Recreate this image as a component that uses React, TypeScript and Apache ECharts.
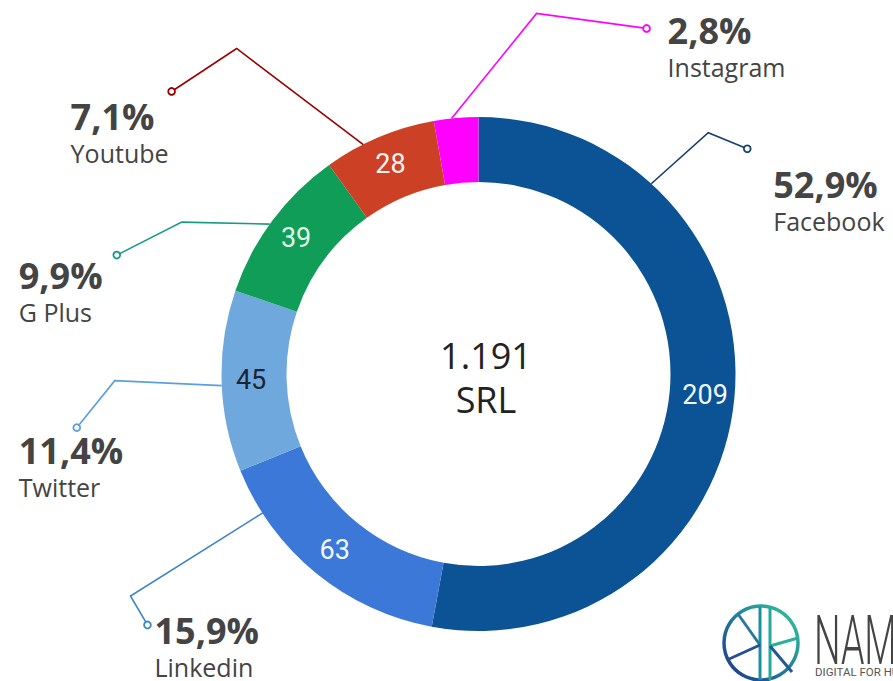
import React, { useEffect, useRef } from "react";
import * as echarts from "echarts";

// ---- data ----
const categories = ["Facebook", "Linkedin", "Twitter", "G Plus", "Youtube", "Instagram"];
const values = [209, 63, 45, 39, 28, 11];
const centerLines = ["1.191", "SRL"];
const logoWord = "NAM";
const logoTagline = "DIGITAL FOR HUMANS";

// ---- styles ----
const sliceColors = ["#0b5394", "#3c78d8", "#6fa8dc", "#0f9d58", "#cc4125", "#ff00ff"];
const innerLabelColors = ["#f2f6ff", "#f2f6ff", "#1b2536", "#e3f7e6", "#fff4f0", "#ffffff"];
const leaderColors = ["#17406e", "#3d85c6", "#5b9ee0", "#1a9988", "#990000", "#ff00ff"];
// leader layout: angle shift from slice middle (deg), anchor radius, two legs, text offset from dot
const leaderStyle = [
  { shift: -53, r: 257, leg1: [57, -51], leg2: [39, 16], text: [26, 24] },
  { shift: 18, r: 238, leg1: [-148, 93], leg2: [17, 29], text: [7, -6] },
  { shift: -1, r: 257, leg1: [-107, -5], leg2: [-38, 47], text: [-58, 11] },
  { shift: -1, r: 257, leg1: [-88, -2], leg2: [-65, 33], text: [-98, 8] },
  { shift: -3.6, r: 254, leg1: [-129, -98], leg2: [-65, 43], text: [-101, 13] },
  { shift: -1, r: 257, leg1: [85, -105], leg2: [110, 15], text: [21, -10] },
];

const CX = 478.5;
const CY = 374;
const R_IN = 192;
const R_OUT = 257;

export default function App() {
  const ref = useRef<HTMLDivElement>(null);

  useEffect(() => {
    if (!ref.current) return;
    const chart = echarts.init(ref.current, undefined, { renderer: "svg" });
    const total = values.reduce((a, b) => a + b, 0);
    const pct = values.map((v) => (Math.round((v / total) * 1000) / 10).toFixed(1).replace(".", ",") + "%");

    // geometry for leader lines, derived from the slice angles
    let acc = 0;
    const geo = values.map((v, i) => {
      const mid = ((acc + v / 2) / total) * 360;
      acc += v;
      const s = leaderStyle[i];
      const a = ((mid + s.shift) * Math.PI) / 180;
      const anchor = [CX + s.r * Math.sin(a), CY - s.r * Math.cos(a)];
      const elbow = [anchor[0] + s.leg1[0], anchor[1] + s.leg1[1]];
      const dot = [elbow[0] + s.leg2[0], elbow[1] + s.leg2[1]];
      const tx = dot[0] + s.text[0];
      const ty = dot[1] + s.text[1] - 8;
      return { anchor, elbow, dot, tx, ty };
    });

    const innerData = values.map((v, i) => ({
      value: v,
      name: categories[i],
      itemStyle: { color: sliceColors[i] },
      label: { color: innerLabelColors[i], show: i !== 5 },
    }));

    const outerData = values.map((v, i) => ({
      value: v,
      name: categories[i],
      labelLine: { lineStyle: { color: leaderColors[i], width: 1.6 } },
    }));

    const dots = geo.map((g, i) => ({
      type: "circle",
      z: 100,
      shape: { cx: g.dot[0], cy: g.dot[1], r: 3.4 },
      style: { fill: "#fff", stroke: leaderColors[i], lineWidth: 1.8 },
    }));

    const logoGrad = new echarts.graphic.LinearGradient(1, 0, 0, 1, [
      { offset: 0, color: "#36c79a" },
      { offset: 0.5, color: "#1e7f9e" },
      { offset: 1, color: "#24318a" },
    ]);

    const logoLines = [
      { p: [[760, 607], [760, 680]], c: "#1f8fa0" },
      { p: [[770, 607], [770, 680]], c: "#27a89c" },
      { p: [[738, 614], [760, 645]], c: "#2a7aa0" },
      { p: [[727, 660], [760, 645]], c: "#254f92" },
      { p: [[770, 646], [798, 638]], c: "#2bb09a" },
      { p: [[770, 646], [792, 672]], c: "#22579a" },
    ].map((l) => ({
      type: "line",
      z: 50,
      shape: { x1: l.p[0][0], y1: l.p[0][1], x2: l.p[1][0], y2: l.p[1][1] },
      style: { stroke: l.c, lineWidth: 3 },
    }));

    chart.setOption({
      animation: false,
      backgroundColor: "#ffffff",
      series: [
        {
          type: "pie",
          radius: [R_IN, R_OUT],
          center: [CX, CY],
          startAngle: 90,
          clockwise: true,
          avoidLabelOverlap: false,
          silent: true,
          label: {
            show: true,
            position: "inside",
            formatter: "{c}",
            fontFamily: "Roboto",
            fontSize: 27,
          },
          labelLine: { show: false },
          data: innerData,
        },
        {
          type: "pie",
          radius: [R_IN, R_OUT],
          center: [CX, CY],
          startAngle: 90,
          clockwise: true,
          avoidLabelOverlap: false,
          silent: true,
          itemStyle: { color: "rgba(0,0,0,0)" },
          label: {
            show: true,
            position: "outside",
            formatter: (p: any) => `{pct|${pct[p.dataIndex]}}\n{name|${p.name}}`,
            rich: {
              pct: { fontFamily: "Open Sans", fontWeight: "bold", fontSize: 36, lineHeight: 40, color: "#444444" },
              name: { fontFamily: "Open Sans", fontSize: 25, lineHeight: 33, color: "#444444" },
            },
          },
          labelLine: { show: true, length: 10, length2: 10 },
          labelLayout: (params: any) => {
            const g = geo[params.dataIndex];
            return {
              x: g.tx,
              y: g.ty,
              align: "left",
              verticalAlign: "top",
              labelLinePoints: [g.anchor, g.elbow, g.dot],
            };
          },
          data: outerData,
        },
      ],
      graphic: [
        {
          type: "text",
          z: 100,
          x: 486,
          y: 377,
          style: {
            text: centerLines.join("\n"),
            fontFamily: "Open Sans",
            fontSize: 36,
            lineHeight: 44,
            fill: "#222222",
            align: "center",
            verticalAlign: "middle",
          },
        },
        ...dots,
        {
          type: "circle",
          z: 50,
          shape: { cx: 761, cy: 643, r: 37 },
          style: { fill: "none", stroke: logoGrad, lineWidth: 3.5 },
        },
        ...logoLines,
        {
          type: "text",
          z: 50,
          x: 814,
          y: 606,
          scaleX: 0.55,
          style: {
            text: logoWord,
            fontFamily: "Roboto",
            fontWeight: 300,
            fontSize: 68,
            fill: "#444444",
          },
        },
        {
          type: "text",
          z: 50,
          x: 815,
          y: 666,
          style: {
            text: logoTagline,
            fontFamily: "Roboto",
            fontSize: 11.5,
            fill: "#555555",
          },
        },
      ],
    });
    return () => chart.dispose();
  }, []);

  return <div ref={ref} style={{ position: "absolute", left: 0, top: 0, width: 893, height: 681 }} />;
}
